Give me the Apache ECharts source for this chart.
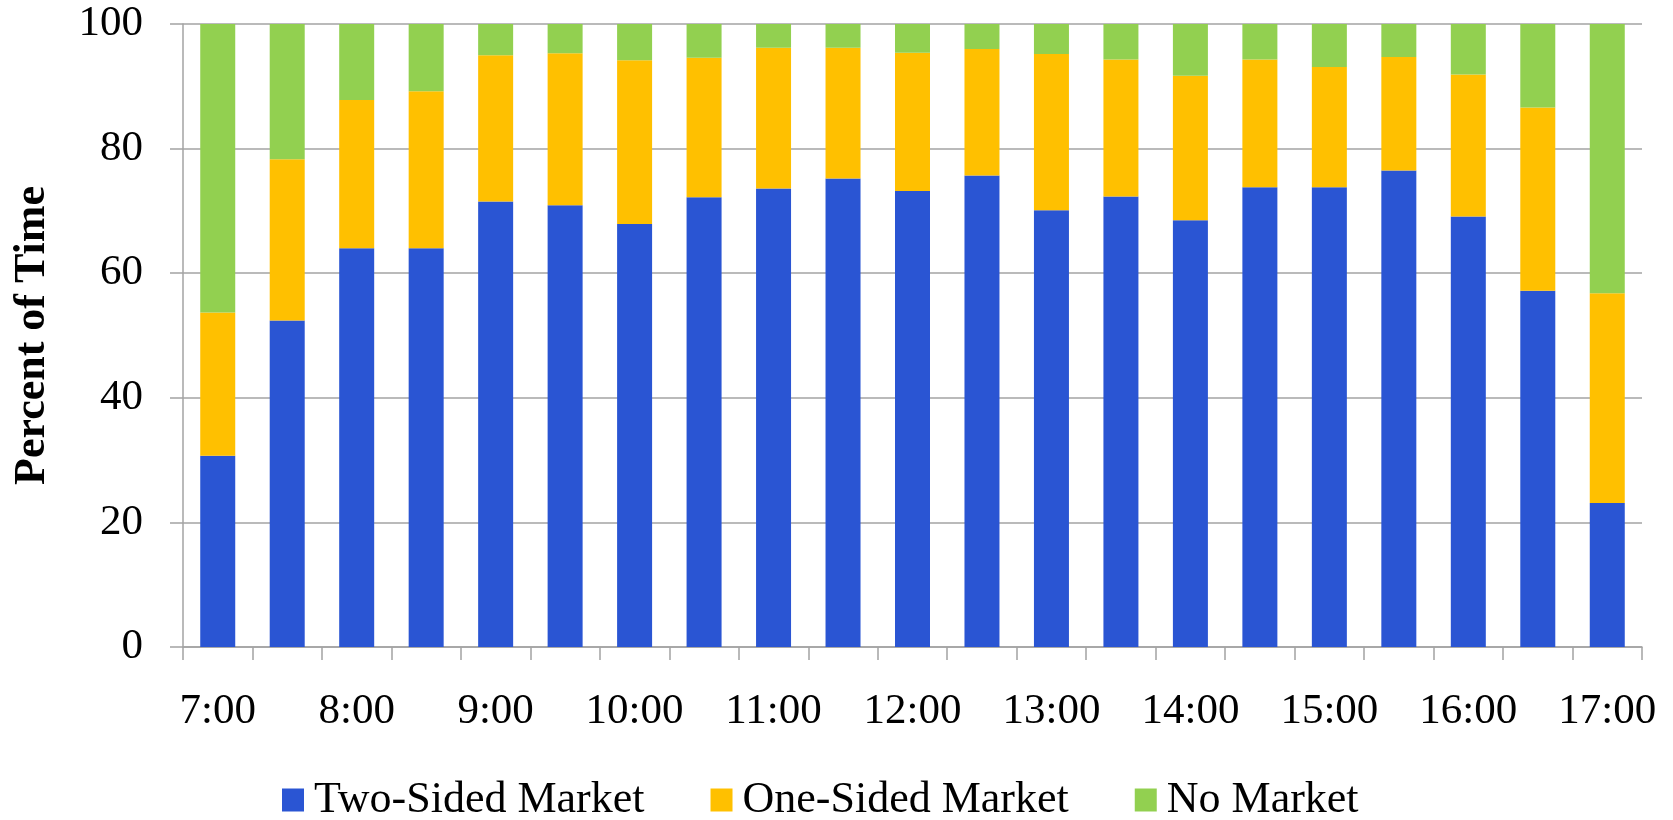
<!DOCTYPE html>
<html>
<head>
<meta charset="utf-8">
<script src="https://cdn.jsdelivr.net/npm/echarts@6/dist/echarts.min.js"></script>
<style>
  html, body { margin: 0; padding: 0; background: #ffffff; }
  #chart { width: 1673px; height: 820px; }
</style>
</head>
<body>
<div id="chart"></div>
<script>
// Half-hour intervals across the trading day
const times = ['7:00','7:30','8:00','8:30','9:00','9:30','10:00','10:30','11:00','11:30',
               '12:00','12:30','13:00','13:30','14:00','14:30','15:00','15:30','16:00','16:30','17:00'];

// Share of time (percent) in each market state
const twoSided = [30.7, 52.4, 64.0, 64.0, 71.5, 70.9, 67.9, 72.2, 73.6, 75.2,
                  73.2, 75.7, 70.1, 72.3, 68.5, 73.8, 73.8, 76.5, 69.1, 57.2, 23.1];
const oneSided = [23.0, 25.9, 23.8, 25.2, 23.5, 24.4, 26.3, 22.4, 22.6, 21.0,
                  22.2, 20.3, 25.1, 22.0, 23.2, 20.5, 19.3, 18.2, 22.8, 29.4, 33.7];
const noMarket = [46.3, 21.7, 12.2, 10.8, 5.0, 4.7, 5.8, 5.4, 3.8, 3.8,
                  4.6, 4.0, 4.8, 5.7, 8.3, 5.7, 6.9, 5.3, 8.1, 13.4, 43.2];

const yTicks = [0, 20, 40, 60, 80, 100];

const seriesNames = ['Two-Sided Market', 'One-Sided Market', 'No Market'];
const seriesColors = ['#2A55D3', '#FFC000', '#92D050'];

const serif = '"Liberation Serif", "Times New Roman", serif';
const gridGray = '#a3a3a3';

const chart = echarts.init(document.getElementById('chart'), null, { renderer: 'canvas' });

const series = [twoSided, oneSided, noMarket].map((vals, i) => ({
  name: seriesNames[i],
  type: 'bar',
  stack: 'time',
  barWidth: 35,
  data: vals,
  itemStyle: { color: seriesColors[i] },
  emphasis: { disabled: true }
}));

chart.setOption({
  animation: false,
  backgroundColor: '#ffffff',
  grid: { left: 183, right: 31, top: 24, bottom: 173, containLabel: false },
  legend: {
    data: seriesNames,
    left: 277,
    top: 773,
    icon: 'rect',
    itemWidth: 22,
    itemHeight: 23,
    itemGap: 66,
    textStyle: { fontFamily: serif, fontSize: 44, color: '#000000', padding: [0, 0, 0, 5] }
  },
  xAxis: {
    type: 'category',
    data: times,
    boundaryGap: true,
    axisLine: { show: true, lineStyle: { color: gridGray, width: 1.5 } },
    axisTick: { show: true, interval: 0, length: 13, lineStyle: { color: gridGray, width: 1.5 } },
    axisLabel: { interval: 1, margin: 43, fontFamily: serif, fontSize: 43, color: '#000000' },
    splitLine: { show: false }
  },
  yAxis: {
    type: 'value',
    min: yTicks[0],
    max: yTicks[yTicks.length - 1],
    interval: yTicks[1] - yTicks[0],
    name: 'Percent of Time',
    nameLocation: 'middle',
    nameRotate: 90,
    nameGap: 128,
    nameTextStyle: { fontFamily: serif, fontSize: 44, fontWeight: 'bold', color: '#000000' },
    axisLine: { show: true, lineStyle: { color: gridGray, width: 1.5 } },
    axisTick: { show: true, length: 13, lineStyle: { color: gridGray, width: 1.5 } },
    axisLabel: { margin: 40, fontFamily: serif, fontSize: 43, color: '#000000' },
    splitLine: { show: true, lineStyle: { color: gridGray, width: 1.5 } }
  },
  series: series
});
</script>
</body>
</html>
